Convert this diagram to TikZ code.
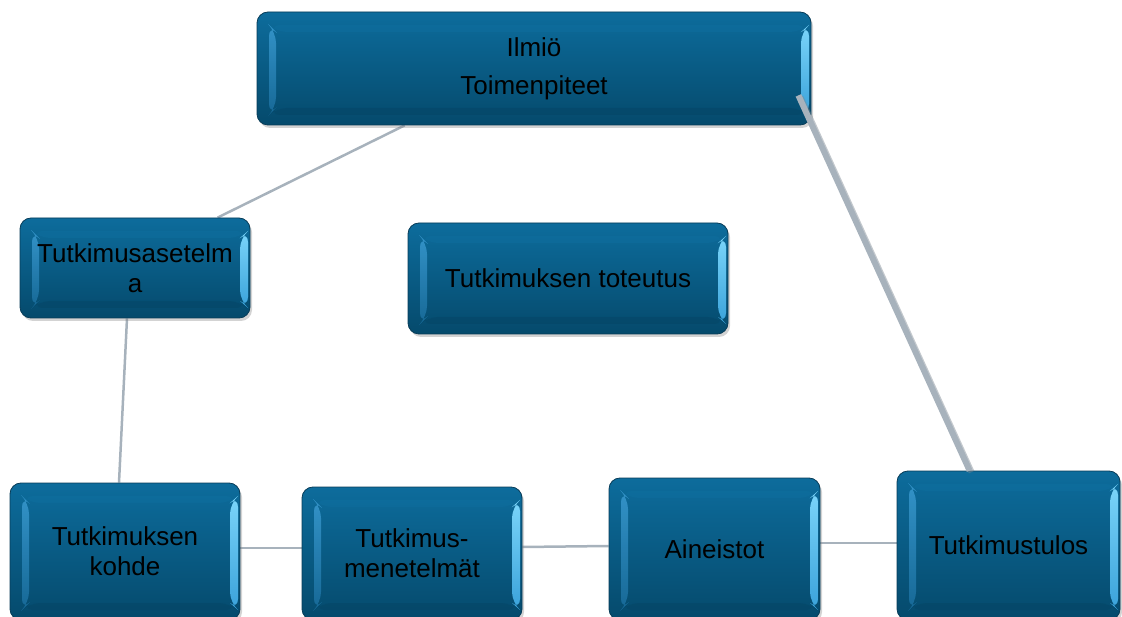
\documentclass[tikz,border=0pt]{standalone}
\usepackage{fontspec}
\setmainfont{Liberation Sans}
\usetikzlibrary{shadows,backgrounds}
\definecolor{boxtop}{HTML}{0D6C9C}
\definecolor{boxbot}{HTML}{054A6C}
\definecolor{boxedge}{HTML}{083C58}
\definecolor{bevLt}{HTML}{3A9AD0}
\definecolor{bevLb}{HTML}{1A6E9E}
\definecolor{bevTop}{HTML}{0F72A3}
\definecolor{bevBot}{HTML}{04405F}
\definecolor{bevRt}{HTML}{7BD5FA}
\definecolor{bevRb}{HTML}{3AA2DA}
\definecolor{conncol}{HTML}{A7B2BC}
\definecolor{connshadow}{HTML}{7D8892}
\newcommand{\ppNW}{path picture bounding box.north west}
\newcommand{\ppNE}{path picture bounding box.north east}
\newcommand{\ppSW}{path picture bounding box.south west}
\newcommand{\ppSE}{path picture bounding box.south east}
\tikzset{
  bluebox/.style={rectangle, rounded corners=11pt, draw=boxedge, line width=0.8pt,
    top color=boxtop, bottom color=boxbot, align=center,
    font=\fontsize{26}{30}\selectfont, text=black, inner sep=0pt,
    drop shadow={opacity=0.35,shadow xshift=2pt,shadow yshift=-3pt},
    path picture={
      \fill[bevTop, opacity=0.35] ([shift={(12pt,-13pt)}]\ppNW) -- ([shift={(-3pt,-13pt)}]\ppNE)
        -- ([shift={(-10pt,-20pt)}]\ppNE) -- ([shift={(19pt,-20pt)}]\ppNW) -- cycle;
      \fill[bevBot, opacity=0.35] ([shift={(12pt,10pt)}]\ppSW) -- ([shift={(-3pt,10pt)}]\ppSE)
        -- ([shift={(-10pt,17pt)}]\ppSE) -- ([shift={(19pt,17pt)}]\ppSW) -- cycle;
      \shade[top color=bevLt, bottom color=bevLb, opacity=0.85] ([shift={(12pt,-13pt)}]\ppNW) -- ([shift={(19pt,-20pt)}]\ppNW)
        -- ([shift={(19pt,17pt)}]\ppSW) -- ([shift={(12pt,10pt)}]\ppSW) -- cycle;
      \shade[top color=bevRt, bottom color=bevRb] ([shift={(-2pt,-13pt)}]\ppNE)
        -- ([shift={(-10pt,-20pt)}]\ppNE) -- ([shift={(-10pt,17pt)}]\ppSE)
        -- ([shift={(-2pt,10pt)}]\ppSE) -- cycle;
    }},
  conn/.style={draw=conncol, line width=2.5pt},
  thickconn/.style={draw=conncol, line width=6pt},
  thickshadow/.style={draw=connshadow, line width=6pt, opacity=0.45}
}
\begin{document}
\begin{tikzpicture}[x=1pt,y=-1pt]
\useasboundingbox (0,0) rectangle (1122,617);
\node[bluebox, minimum width=554pt, minimum height=113pt] (top) at (534,68.5) {Ilmiö\\[8pt]Toimenpiteet};
\node[bluebox, minimum width=230pt, minimum height=100pt] (aset) at (135,268) {Tutkimusasetelm\\a};
\node[bluebox, minimum width=320pt, minimum height=111pt] (tot) at (568,278.5) {Tutkimuksen toteutus};
\node[bluebox, minimum width=230pt, minimum height=137pt] (kohde) at (125,551.5) {Tutkimuksen\\kohde};
\node[bluebox, minimum width=220pt, minimum height=133pt] (men) at (412,553.5) {Tutkimus-\\menetelmät};
\node[bluebox, minimum width=211pt, minimum height=142pt] (ain) at (714.5,549) {Aineistot};
\node[bluebox, minimum width=223pt, minimum height=149pt] (tulos) at (1008.5,545.5) {Tutkimustulos};
\begin{pgfonlayer}{background}
\draw[conn] ([xshift=148pt]top.south west) -- ([xshift=198pt]aset.north west);
\draw[conn] ([xshift=-8pt]aset.south) -- ([xshift=-6pt]kohde.north);
\draw[conn] ([yshift=3.5pt]kohde.east) -- ([yshift=5.5pt]men.west);
\draw[conn] ([yshift=6.5pt]men.east) -- ([yshift=3pt]ain.west);
\draw[conn] ([yshift=6pt]ain.east) -- ([yshift=2.5pt]tulos.west);
\end{pgfonlayer}
\draw[thickshadow] ([shift={(-11pt,28.5pt)}]top.south east) -- ([shift={(75pt,-1.5pt)}]tulos.north west);
\draw[thickconn] ([shift={(-13pt,30pt)}]top.south east) -- ([xshift=73pt]tulos.north west);
\end{tikzpicture}
\end{document}
